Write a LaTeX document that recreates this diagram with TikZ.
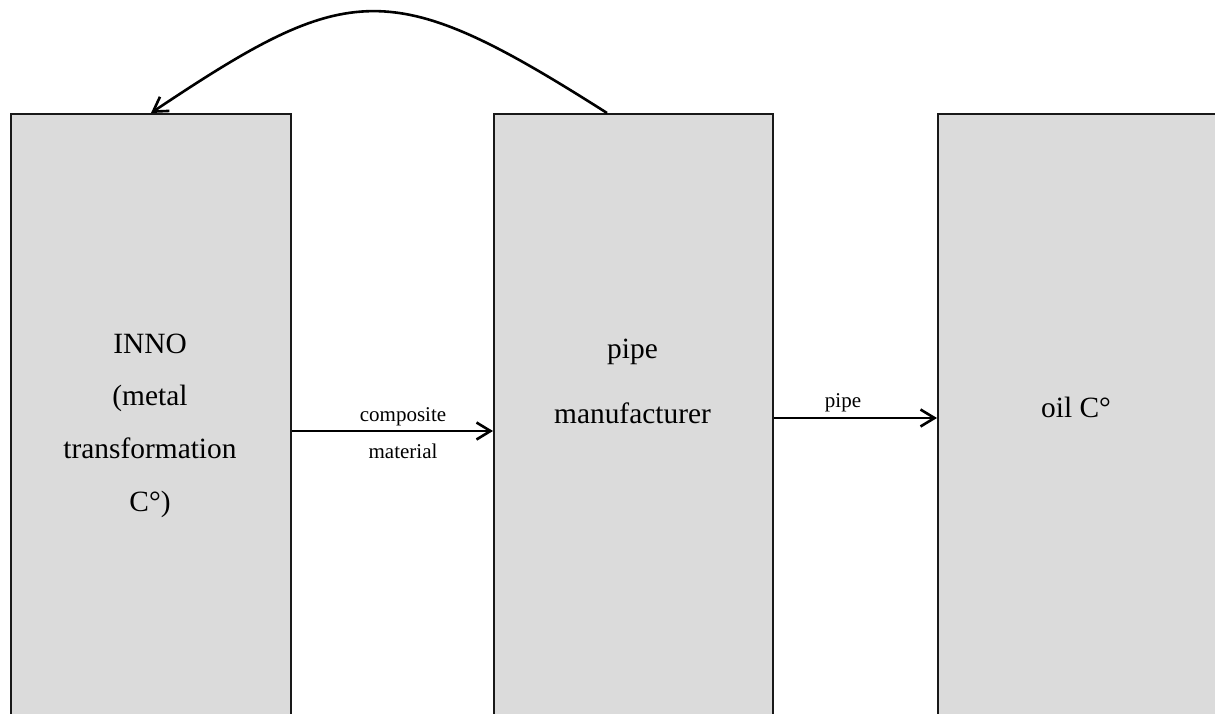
\documentclass[tikz,border=0pt]{standalone}
\usepackage{fontspec}
\setmainfont{Liberation Serif}
\usetikzlibrary{arrows.meta,calc}

\tikzset{
  stage/.style={draw=black!90, line width=2pt, fill=black!14, rectangle,
    anchor=north west, inner sep=0pt},
  boxtext/.style={anchor=base, inner sep=0pt, font=\fontsize{29.4}{35}\selectfont},
  flowlabel/.style={anchor=base, inner sep=0pt, font=\fontsize{21}{25}\selectfont},
  flow/.style={line width=2.6pt, -{Straight Barb[length=14pt,width=17pt,line width=2.6pt]}},
}

\begin{document}
\begin{tikzpicture}[x=1pt,y=-1pt]
\useasboundingbox (0,0) rectangle (1215,713);
\clip (0,0) rectangle (1215,713);

% three stages of the supply chain
\node[stage, minimum width=280pt, minimum height=636pt] (inno) at (10,113) {};
\node[stage, minimum width=279pt, minimum height=636pt] (pipeman) at (493,113) {};
\node[stage, minimum width=282pt, minimum height=636pt] (oil) at (937,113) {};

% stage texts
\node[boxtext] (innoA) at (150,353) {INNO};
\node[boxtext] (innoB) at (150,405.5) {(metal};
\node[boxtext] (innoC) at (150,458) {transformation};
\node[boxtext] (innoD) at (150,511) {C°)};
\node[boxtext] (pmA) at (632.5,358) {pipe};
\node[boxtext] (pmB) at (632.5,423) {manufacturer};
\node[boxtext] (oilA) at (1076,417) {oil C°};

% material flows
\coordinate (f1s) at ($(inno.north east)+(0,318)$);
\coordinate (f1e) at ($(pipeman.north west)+(0,318)$);
\draw[flow] (f1s) -- (f1e);
\node[flowlabel] (lblA) at (403,421) {composite};
\node[flowlabel] (lblB) at (403,458) {material};

\coordinate (f2s) at ($(pipeman.north east)+(0,305)$);
\coordinate (f2e) at ($(oil.north west)+(0,305)$);
\draw[flow] (f2s) -- (f2e);
\node[flowlabel] (lblC) at (843,407) {pipe};

% feedback from the pipe manufacturer back to INNO
\coordinate (fbs) at ($(pipeman.north west)+(114,0)$);
\coordinate (fbe) at ($(inno.north west)+(141,0)$);
\draw[flow] (fbs) .. controls ($(fbs)+(-217,-138)$) and ($(fbe)+(199,-133)$) .. (fbe);
\end{tikzpicture}
\end{document}
